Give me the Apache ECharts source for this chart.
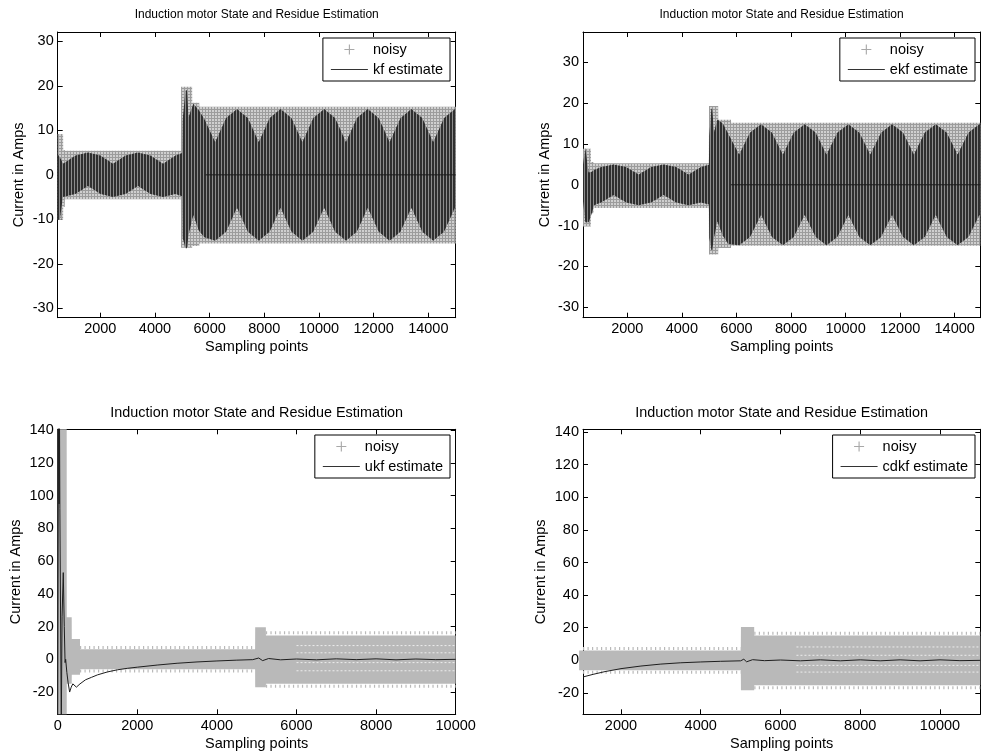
<!DOCTYPE html>
<html><head><meta charset="utf-8">
<script src="https://cdn.jsdelivr.net/npm/echarts@6.0.0/dist/echarts.min.js"></script>
<style>html,body{margin:0;padding:0;background:#fff}#c{width:982px;height:755px}</style>
</head><body><div id="c"></div>
<script>
// ---------------- data ----------------
const titleText = 'Induction motor State and Residue Estimation';
const xName = 'Sampling points';
const yName = 'Current in Amps';

const tickXTop = [2000, 4000, 6000, 8000, 10000, 12000, 14000];
const tickYTop = [-30, -20, -10, 0, 10, 20, 30];
const tickXBL = [0, 2000, 4000, 6000, 8000, 10000];
const tickXBR = [2000, 4000, 6000, 8000, 10000];
const tickYBot = [-20, 0, 20, 40, 60, 80, 100, 120, 140];

// top-left: noisy band envelope
const tlNoisyX  = [442, 640, 645, 700, 705, 4950, 4955, 5360, 5365, 5620, 5625, 15002];
const tlNoisyLo = [-10.1, -10.1, -7.2, -7.2, -5.5, -5.5, -16.4, -16.4, -16.0, -16.0, -15.4, -15.4];
const tlNoisyHi = [9.2, 9.2, 5.6, 5.6, 5.4, 5.4, 19.8, 19.8, 16.2, 16.2, 15.3, 15.3];
// top-left: kf estimate envelope (dense oscillation)
const tlKfX  = [442, 520, 600, 635, 1093, 1550, 2008, 2465, 2923, 3380, 3837, 4294, 4750, 4990, 5005, 5120, 5170, 5230, 5405, 5600, 5804,
                6203, 6602, 7000, 7399, 7798, 8197, 8595, 8994, 9393, 9792, 10190, 10589, 10988, 11387, 11785, 12184, 12583, 12982, 13380, 13779, 14178, 14577, 14975, 15002];
const tlKfUp = [4.6, 4.0, 3.0, 2.5, 4.33, 5.0, 4.33, 2.5, 4.33, 5.0, 4.33, 2.5, 4.33, 4.9, 12, 19.0, 19.0, 13, 16.0, 14.6, 12.6,
                7.4, 12.8, 14.8, 12.8, 7.4, 12.8, 14.8, 12.8, 7.4, 12.8, 14.8, 12.8, 7.4, 12.8, 14.8, 12.8, 7.4, 12.8, 14.8, 12.8, 7.4, 12.8, 14.8, 14.8];
const tlKfLo = [-10.1, -10.1, -6.5, -5.0, -4.33, -2.5, -4.33, -5.0, -4.33, -2.5, -4.33, -5.0, -4.33, -4.8, -14, -16.5, -16.5, -13.5, -9, -12.5, -14.0,
                -14.8, -12.8, -7.4, -12.8, -14.8, -12.8, -7.4, -12.8, -14.8, -12.8, -7.4, -12.8, -14.8, -12.8, -7.4, -12.8, -14.8, -12.8, -7.4, -12.8, -14.8, -12.8, -7.4, -7.6];
const tlZeroX = [5850, 15002];
const tlZeroY = [0, 0];

// top-right
const trNoisyX  = [376, 665, 670, 760, 765, 4990, 4995, 5330, 5335, 5800, 5805, 14938];
const trNoisyLo = [-10.2, -10.2, -7.0, -7.0, -5.7, -5.7, -17.1, -17.1, -15.5, -15.5, -14.9, -14.9];
const trNoisyHi = [8.8, 8.8, 5.6, 5.6, 5.3, 5.3, 19.3, 19.3, 15.9, 15.9, 15.2, 15.2];
const trKfX  = [376, 460, 585, 700, 780, 1042, 1500, 1958, 2415, 2873, 3330, 3788, 4245, 4700, 4990, 5005, 5080, 5110, 5180, 5300, 5500, 5700,
                6100, 6500, 6901, 7301, 7701, 8101, 8502, 8902, 9302, 9702, 10103, 10503, 10903, 11303, 11704, 12104, 12504, 12904, 13305, 13705, 14105, 14505, 14906, 14938];
const trKfUp = [5.0, 9.0, 3.0, 3.2, 3.6, 4.33, 5.0, 4.33, 2.5, 4.33, 5.0, 4.33, 2.5, 4.33, 4.9, 12, 18.6, 18.6, 13, 16, 15, 12.5,
                7.4, 12.8, 14.8, 12.8, 7.4, 12.8, 14.8, 12.8, 7.4, 12.8, 14.8, 12.8, 7.4, 12.8, 14.8, 12.8, 7.4, 12.8, 14.8, 12.8, 7.4, 12.8, 14.8, 14.7];
const trKfLo = [-4.0, -9.2, -9.2, -7.0, -5.0, -4.33, -2.5, -4.33, -5.0, -4.33, -2.5, -4.33, -5.0, -4.33, -4.8, -13, -16.0, -16.0, -13, -9, -12.5, -14.5,
                -14.8, -12.8, -7.4, -12.8, -14.8, -12.8, -7.4, -12.8, -14.8, -12.8, -7.4, -12.8, -14.8, -12.8, -7.4, -12.8, -14.8, -12.8, -7.4, -12.8, -14.8, -12.8, -7.4, -7.6];
const trZeroX = [5800, 14938];
const trZeroY = [0, 0];

// bottom-left (ukf)
const blNoisyX  = [0, 226, 228, 352, 354, 560, 562, 4960, 4962, 5230, 5232, 10000];
const blNoisyLo = [-40, -40, -15, -15, -9.5, -9.5, -6.0, -6.0, -17.0, -17.0, -15.0, -15.0];
const blNoisyHi = [150, 150, 25.7, 25.7, 12.5, 12.5, 6.2, 6.2, 19.6, 19.6, 14.6, 14.6];
const blTeethX   = [[560, 4960], [5232, 10000]];
const blTeethHi  = [7.3, 16.2];
const blTeethLo  = [-7.1, -16.4];
const blGapLevels = [8.4, 4.0, -2.0, -7.0];
const blGapX = [6000, 10000];
const ukfX = [0, 20, 35, 45, 55, 90, 110, 140, 165, 185, 200, 230, 260, 300, 340, 380, 420, 470, 560, 700, 850, 1000, 1250, 1500, 1750, 2000, 2500, 3000, 3500, 4000, 4500, 4900, 5050, 5150, 5300, 5600, 6000, 6500, 7000, 7500, 8000, 8500, 9000, 9500, 10000];
const ukfY = [-40, 150, 95, 150, 92, -40, 26, 53, 20, -2, 0, -8, -14, -20, -17, -15, -14.5, -17, -15, -12.5, -11, -9.5, -7.7, -6.4, -5.5, -4.8, -3.5, -2.4, -1.6, -1.0, -0.5, -0.2, 0.8, -0.8, 0.5, -0.3, 0.2, -0.3, 0.3, -0.2, 0.3, -0.3, 0.2, -0.2, 0];

// bottom-right (cdkf)
const brNoisyX  = [950, 5005, 5008, 5340, 5343, 11011];
const brNoisyLo = [-6.1, -6.1, -18.4, -18.4, -15.3, -15.3];
const brNoisyHi = [6.1, 6.1, 20.4, 20.4, 15.3, 15.3];
const brTeethX   = [[1047, 5005], [5343, 11011]];
const brTeethHi  = [7.3, 16.6];
const brTeethLo  = [-7.3, -16.8];
const brGapLevels = [8.2, 3.1, -3.1, -7.2];
const brGapX = [6400, 11011];
const cdkfX = [1047, 1300, 1600, 2000, 2500, 3000, 3500, 4000, 4500, 5000, 5080, 5150, 5300, 5600, 6000, 6500, 7000, 7500, 8000, 8500, 9000, 9500, 10000, 10500, 11011];
const cdkfY = [-10.2, -8.6, -6.9, -5.1, -3.5, -2.3, -1.5, -1.0, -0.6, -0.3, 0.7, -0.9, 0.4, -0.2, 0.2, -0.3, 0.3, -0.3, 0.3, -0.3, 0.3, -0.3, 0.3, -0.2, 0];

// ---------------- rendering ----------------
const FONT = '"Liberation Sans", Arial, Helvetica, sans-serif';
const grids = [
  {left: 57.7, top: 32, width: 398, height: 285.7},
  {left: 583, top: 32, width: 397.3, height: 285.7},
  {left: 57.7, top: 429.3, width: 398, height: 285},
  {left: 583, top: 429.3, width: 397.3, height: 285}
];
const ranges = [
  {x: [442, 15002], y: [-32.1, 32.1], xt: tickXTop, yt: tickYTop, yGap: 31},
  {x: [376, 14938], y: [-32.55, 37.42], xt: tickXTop, yt: tickYTop, yGap: 30.5},
  {x: [0, 10000], y: [-33.6, 140.6], xt: tickXBL, yt: tickYBot, yGap: 34.5},
  {x: [1047, 11011], y: [-33.1, 141.7], xt: tickXBR, yt: tickYBot, yGap: 35}
];

function tile(w, h, fn) { const c = document.createElement('canvas'); c.width = w; c.height = h; fn(c.getContext('2d')); return c; }
const lobeTile = tile(3, 1, g => { g.fillStyle = '#2f2f2f'; g.fillRect(0, 0, 2, 1); g.fillStyle = '#8c8c8c'; g.fillRect(2, 0, 1, 1); });
const plusTile = tile(3, 3, g => { g.fillStyle = '#cfcfcf'; g.fillRect(0, 0, 3, 3); g.fillStyle = '#9c9c9c'; g.fillRect(0, 1, 3, 1); g.fillRect(1, 0, 1, 3); });
const lobeFill = {image: lobeTile, repeat: 'repeat'};
const plusFill = {image: plusTile, repeat: 'repeat'};

const xAxis = [], yAxis = [];
ranges.forEach((r, gi) => {
  const tick = (vals) => ({show: true, inside: true, length: 5, customValues: vals, lineStyle: {color: '#000', width: 1}});
  const line = {show: true, onZero: false, lineStyle: {color: '#000', width: 1}};
  const lab = (vals) => ({show: true, customValues: vals, margin: 4, color: '#000', fontSize: 14.5, fontFamily: FONT, formatter: v => String(v)});
  xAxis.push({gridIndex: gi, type: 'value', min: r.x[0], max: r.x[1], position: 'bottom', axisLine: line, axisTick: tick(r.xt), axisLabel: lab(r.xt), splitLine: {show: false},
    name: xName, nameLocation: 'middle', nameGap: 22, nameTextStyle: {color: '#000', fontSize: 14.5, fontFamily: FONT}});
  xAxis.push({gridIndex: gi, type: 'value', min: r.x[0], max: r.x[1], position: 'top', axisLine: line, axisTick: tick(r.xt), axisLabel: {show: false}, splitLine: {show: false}});
  yAxis.push({gridIndex: gi, type: 'value', min: r.y[0], max: r.y[1], position: 'left', axisLine: line, axisTick: tick(r.yt), axisLabel: lab(r.yt), splitLine: {show: false},
    name: yName, nameLocation: 'middle', nameGap: r.yGap, nameTextStyle: {color: '#000', fontSize: 14.5, fontFamily: FONT}});
  yAxis.push({gridIndex: gi, type: 'value', min: r.y[0], max: r.y[1], position: 'right', axisLine: line, axisTick: tick(r.yt), axisLabel: {show: false}, splitLine: {show: false}});
});

function envSeries(name, gi, xs, lo, hi, fill, clip) {
  return {
    name: name, type: 'custom', xAxisIndex: 2 * gi, yAxisIndex: 2 * gi, clip: clip, silent: true,
    data: xs.map((x, i) => [x, lo[i], hi[i]]), encode: {x: 0, y: [1, 2]},
    renderItem: function (params, api) {
      if (params.dataIndex !== 0) return null;
      const pts = [];
      for (let i = 0; i < xs.length; i++) pts.push(api.coord([xs[i], hi[i]]));
      for (let i = xs.length - 1; i >= 0; i--) pts.push(api.coord([xs[i], lo[i]]));
      return {type: 'polygon', shape: {points: pts}, style: {fill: fill, stroke: null}};
    }
  };
}
function lineSeries(name, gi, xs, ys, color, width, type, z) {
  return {name: name, type: 'line', xAxisIndex: 2 * gi, yAxisIndex: 2 * gi, showSymbol: false, symbol: 'none', silent: true, z: z || 3,
    data: xs.map((x, i) => [x, ys[i]]), lineStyle: {color: color, width: width, type: type || 'solid'}, clip: true};
}

const series = [];
// top-left
series.push(envSeries('noisy', 0, tlNoisyX, tlNoisyLo, tlNoisyHi, plusFill, true));
series.push(envSeries('kf estimate', 0, tlKfX, tlKfLo, tlKfUp, lobeFill, true));
series.push(lineSeries('kf estimate', 0, tlZeroX, tlZeroY, '#1a1a1a', 1));
// top-right
series.push(envSeries('noisy', 1, trNoisyX, trNoisyLo, trNoisyHi, plusFill, true));
series.push(envSeries('ekf estimate', 1, trKfX, trKfLo, trKfUp, lobeFill, true));
series.push(lineSeries('ekf estimate', 1, trZeroX, trZeroY, '#1a1a1a', 1));
// bottom-left
series.push(envSeries('noisy', 2, blNoisyX, blNoisyLo, blNoisyHi, '#b9b9b9', true));
blTeethX.forEach((seg, k) => {
  series.push(lineSeries('noisy teeth', 2, seg, [blTeethHi[k], blTeethHi[k]], '#b9b9b9', 3, [1.2, 3.3], 2));
  series.push(lineSeries('noisy teeth', 2, seg, [blTeethLo[k], blTeethLo[k]], '#b9b9b9', 3, [1.2, 3.3], 2));
});
blGapLevels.forEach(v => series.push(lineSeries('noisy gaps', 2, blGapX, [v, v], 'rgba(255,255,255,0.75)', 1, [2, 2], 2)));
series.push(lineSeries('ukf estimate', 2, ukfX, ukfY, '#1e1e1e', 1, 'solid', 4));
// bottom-right
series.push(envSeries('noisy', 3, brNoisyX, brNoisyLo, brNoisyHi, '#b9b9b9', false));
brTeethX.forEach((seg, k) => {
  series.push(lineSeries('noisy teeth', 3, seg, [brTeethHi[k], brTeethHi[k]], '#b9b9b9', 3, [1.2, 3.3], 2));
  series.push(lineSeries('noisy teeth', 3, seg, [brTeethLo[k], brTeethLo[k]], '#b9b9b9', 3, [1.2, 3.3], 2));
});
brGapLevels.forEach(v => series.push(lineSeries('noisy gaps', 3, brGapX, [v, v], 'rgba(255,255,255,0.75)', 1, [2, 2], 2)));
series.push(lineSeries('cdkf estimate', 3, cdkfX, cdkfY, '#1e1e1e', 1, 'solid', 4));

const plusIcon = 'path://M4,0L5,0L5,4L9,4L9,5L5,5L5,9L4,9L4,5L0,5L0,4L4,4Z';
const lineIcon = 'path://M0,0L37,0L37,1L0,1Z';
function legendFor(est, top, right) {
  return {
    top: top, right: right, orient: 'vertical', selectedMode: false,
    backgroundColor: '#fff', borderColor: '#000', borderWidth: 1, borderRadius: 0,
    padding: [3, 7, 3, 8], itemGap: 3, itemWidth: 37, itemHeight: 10,
    textStyle: {color: '#000', fontSize: 14.5, fontFamily: FONT, lineHeight: 17},
    data: [
      {name: 'noisy', icon: plusIcon, itemStyle: {color: '#a8a8a8'}},
      {name: est, icon: lineIcon, itemStyle: {color: '#333'}}
    ]
  };
}

const titles = [
  {x: 256.7, y: 15, size: 12},
  {x: 781.6, y: 15, size: 12},
  {x: 256.7, y: 413.5, size: 14.4},
  {x: 781.6, y: 413.5, size: 14.4}
].map(t => ({type: 'text', x: t.x, y: t.y, silent: true,
  style: {text: titleText, fill: '#000', fontSize: t.size, fontFamily: FONT, textAlign: 'center', textVerticalAlign: 'middle'}}));

const chart = echarts.init(document.getElementById('c'), null, {renderer: 'canvas'});
chart.setOption({
  animation: false,
  backgroundColor: '#fff',
  grid: grids.map(g => Object.assign({containLabel: false}, g)),
  xAxis: xAxis, yAxis: yAxis,
  legend: [legendFor('kf estimate', 38, 532), legendFor('ekf estimate', 38, 7), legendFor('ukf estimate', 435, 532), legendFor('cdkf estimate', 435, 7)],
  graphic: titles,
  series: series
});
</script></body></html>
